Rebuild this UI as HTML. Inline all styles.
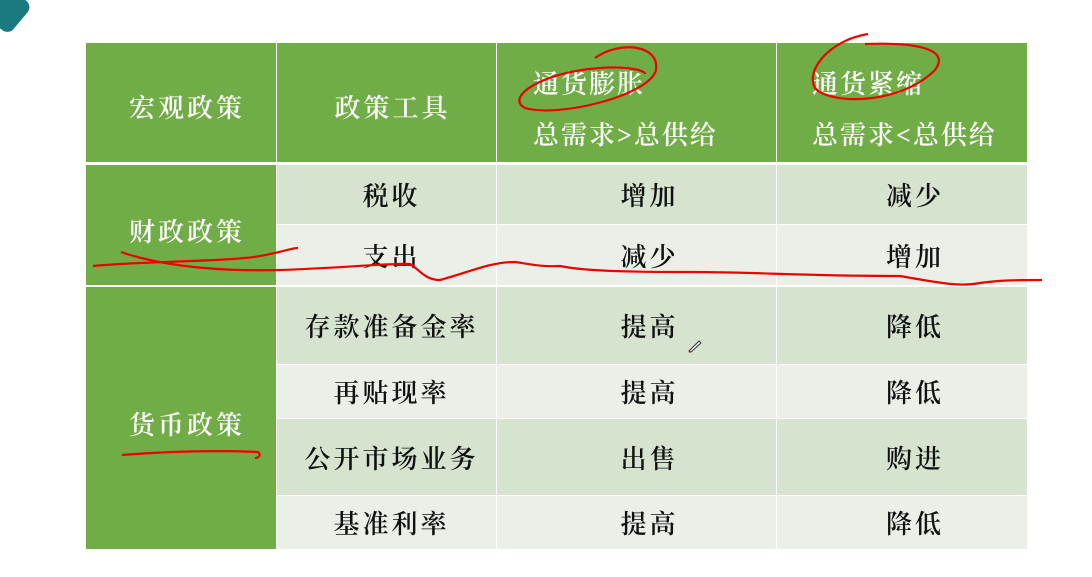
<!DOCTYPE html>
<html><head><meta charset="utf-8"><style>
body{margin:0;width:1092px;height:577px;background:#fff;position:relative;overflow:hidden;font-family:"Liberation Serif","Noto Serif CJK SC",serif;}
.c{position:absolute;display:flex;align-items:center;justify-content:center;font-size:26px;letter-spacing:3px;color:#111;box-sizing:border-box;font-weight:600;}
.g{background:#70AD47;color:#fff;padding-left:12px;}
.d{background:#D5E3CF;}
.l{background:#EAF0E8;}
.k2{padding-left:10px;}
.k3{padding-left:26px;}
.hl{position:absolute;color:#fff;font-size:26px;letter-spacing:2px;font-weight:600;}
</style></head><body>
<div style="position:absolute;left:-6px;top:-8px;width:30px;height:38px;background:#1b7a80;border-radius:8px;transform:rotate(40deg)"></div>
<div>
<div class="c g" style="left:86px;top:43px;width:190px;height:119px;padding-top:8px">宏观政策</div>
<div class="c g" style="left:277px;top:43px;width:219px;height:119px;padding-top:8px">政策工具</div>
<div class="c g" style="left:497px;top:43px;width:279px;height:119px"></div>
<div class="c g" style="left:777px;top:43px;width:250px;height:119px"></div>
<div class="hl" style="left:533px;top:64px">通货膨胀</div>
<div class="hl" style="left:533px;top:115px">总需求&gt;总供给</div>
<div class="hl" style="left:812px;top:64px">通货紧缩</div>
<div class="hl" style="left:812px;top:115px">总需求&lt;总供给</div>

<div class="c g" style="left:86px;top:165px;width:190px;height:120px;padding-top:10px">财政政策</div>
<div class="c d k2" style="left:277px;top:165px;width:219px;height:59px">税收</div>
<div class="c d k3" style="left:497px;top:165px;width:279px;height:59px">增加</div>
<div class="c d k3" style="left:777px;top:165px;width:250px;height:59px">减少</div>
<div class="c l k2" style="left:277px;top:225px;width:219px;height:60px">支出</div>
<div class="c l k3" style="left:497px;top:225px;width:279px;height:60px">减少</div>
<div class="c l k3" style="left:777px;top:225px;width:250px;height:60px">增加</div>

<div class="c g" style="left:86px;top:287px;width:190px;height:262px;padding-top:10px">货币政策</div>
<div class="c d k2" style="left:277px;top:287px;width:219px;height:77px">存款准备金率</div>
<div class="c d k3" style="left:497px;top:287px;width:279px;height:77px">提高</div>
<div class="c d k3" style="left:777px;top:287px;width:250px;height:77px">降低</div>
<div class="c l k2" style="left:277px;top:365px;width:219px;height:53px">再贴现率</div>
<div class="c l k3" style="left:497px;top:365px;width:279px;height:53px">提高</div>
<div class="c l k3" style="left:777px;top:365px;width:250px;height:53px">降低</div>
<div class="c d k2" style="left:277px;top:419px;width:219px;height:76px">公开市场业务</div>
<div class="c d k3" style="left:497px;top:419px;width:279px;height:76px">出售</div>
<div class="c d k3" style="left:777px;top:419px;width:250px;height:76px">购进</div>
<div class="c l k2" style="left:277px;top:496px;width:219px;height:53px">基准利率</div>
<div class="c l k3" style="left:497px;top:496px;width:279px;height:53px">提高</div>
<div class="c l k3" style="left:777px;top:496px;width:250px;height:53px">降低</div>
</div>
<svg width="1092" height="577" style="position:absolute;left:0;top:0" fill="none" stroke="#e00" stroke-width="2.2">
<path d="M595,58 C620,40 660,45 656,70 C650,95 560,118 525,108 C505,98 540,72 600,68 C625,66 645,70 645,74"/>
<path d="M868,34 C830,40 805,70 815,88 C830,105 900,105 935,70 C950,50 920,42 865,44"/>
<path d="M93,266 C130,262 200,262 245,258 C270,256 290,248 298,248 M121,252 C150,262 200,272 280,270 C340,268 390,263 410,264 C420,270 425,280 440,280 C470,272 490,262 515,262 C530,264 540,267 560,266 C580,270 610,272 690,272 C760,272 800,276 900,276 C940,283 960,287 980,283 C1000,280 1020,280 1042,280"/>
<path d="M122,455 C160,452 210,450 258,452 C262,455 258,458 255,458"/>
</svg>
<svg width="16" height="16" style="position:absolute;left:687px;top:337px"><path d="M2,14 L12,4 L14,6 L4,15 Z" fill="#fff" stroke="#333" stroke-width="1"/><path d="M2,14 L4,15 L2,16Z" fill="#e00"/></svg>
</body></html>
